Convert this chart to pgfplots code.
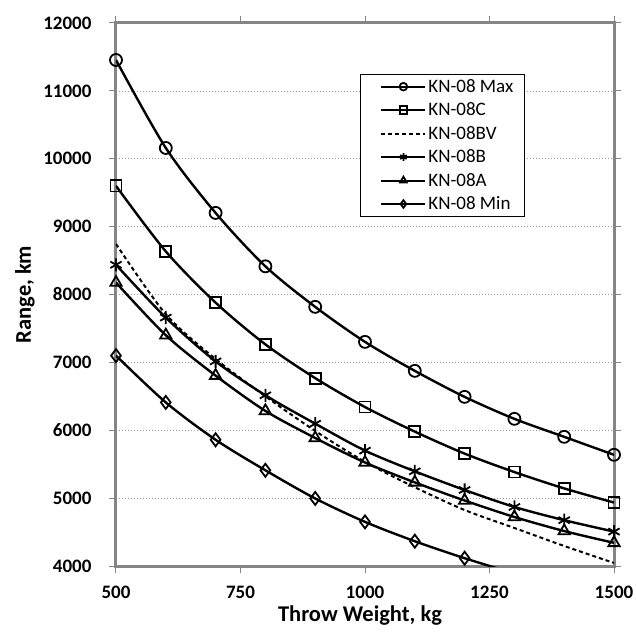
\documentclass[border=0pt]{standalone}
\usepackage{fontspec}
\setmainfont{Carlito}
\usepackage{pgfplots}
\pgfplotsset{compat=1.18}
\usepackage{pgfplotstable}
\pgfplotstableread{
x y
500 11455
600 10159
700 9202
800 8415
900 7818
1000 7302
1100 6875
1200 6492
1300 6168
1400 5903
1500 5638
}\tmax
\pgfplotstableread{
x y
500 9600
600 8635
700 7880
800 7265
900 6768
1000 6342
1100 5980
1200 5656
1300 5384
1400 5143
1500 4935
}\tc
\pgfplotstableread{
x y
500 8745
600 7710
700 7050
800 6500
900 5990
1000 5535
1100 5160
1200 4825
1300 4560
1400 4295
1500 4045
}\tbv
\pgfplotstableread{
x y
500 8438
600 7660
700 7015
800 6515
900 6097
1000 5700
1100 5395
1200 5120
1300 4870
1400 4675
1500 4507
}\tb
\pgfplotstableread{
x y
500 8176
600 7400
700 6805
800 6285
900 5886
1000 5525
1100 5232
1200 4965
1300 4722
1400 4515
1500 4341
}\ta
\pgfplotstableread{
x y
500 7100
600 6410
700 5860
800 5410
900 4995
1000 4650
1100 4365
1200 4115
1300 3890
}\tmin
\definecolor{axgray}{HTML}{858585}
\begin{document}
\begin{tikzpicture}
\begin{axis}[
  scale only axis,
  width=498bp, height=543bp,
  xmin=500, xmax=1500, ymin=4000, ymax=12000,
  xtick={500,750,1000,1250,1500},
  ytick={4000,5000,...,12000},
  scaled ticks=false,
  /pgf/number format/1000 sep={},
  /pgf/number format/assume math mode=true,
  ticklabel style={font=\fontsize{19bp}{22bp}\selectfont\bfseries},
  xticklabel style={yshift=-10bp},
  yticklabel style={xshift=-14bp},
  axis line style={draw=axgray, line width=3bp},
  tick style={draw=axgray, line width=1bp},
  tick align=outside,
  major tick length=7bp,
  ymajorgrids,
  major grid style={draw=gray!80, line width=0.7bp, dash pattern=on 1.5bp off 1.5bp},
  xlabel={Throw Weight, kg},
  ylabel={Range, km},
  label style={font=\fontsize{22.5bp}{26bp}\selectfont\bfseries},
  xlabel style={at={(axis description cs:0.49,-0.091)}, anchor=center},
  ylabel style={at={(axis description cs:-0.183,0.5)}, anchor=center},
  every axis plot/.append style={black, line width=2.4bp, smooth, tension=0.5},
  legend style={at={(axis description cs:0.49,0.906)}, anchor=north west,
    draw=black, line width=0.8bp, fill=white,
    font=\fontsize{19bp}{22bp}\selectfont,
    inner xsep=9bp, inner ysep=3bp, row sep=5bp,
    cells={anchor=west}},
  legend cell align=left,
  legend image code/.code={\path[draw=none] (-12bp,0bp) -- (44bp,0bp);
    \draw[mark=none,sharp plot,line width=2bp] (0bp,0bp) -- (44bp,0bp);
    \draw[sharp plot,mark size=3.8bp] plot coordinates {(22bp,0bp)};},
]
\addplot[mark=o, mark size=6bp, mark options={solid, fill=white, line width=1.8bp}] table[x=x,y=y]{\tmax};
\addlegendentry{KN-08 Max}
\addplot[mark=square, mark size=5.5bp, mark options={solid, fill=white, line width=1.8bp}] table[x=x,y=y]{\tc};
\addlegendentry{KN-08C}
\addplot[dashed, dash pattern=on 4bp off 3bp, line width=2bp] table[x=x,y=y]{\tbv};
\addlegendentry{KN-08BV}
\addplot[mark=asterisk, mark size=6.5bp, mark options={solid, line width=1.8bp}] table[x=x,y=y]{\tb};
\addlegendentry{KN-08B}
\addplot[mark=triangle, mark size=6.5bp, mark options={solid, fill=white, line width=1.8bp}] table[x=x,y=y]{\ta};
\addlegendentry{KN-08A}
\addplot[mark=diamond, mark size=6.5bp, mark indices={1,2,3,4,5,6,7,8}, mark options={solid, fill=white, line width=1.8bp}] table[x=x,y=y]{\tmin};
\addlegendentry{KN-08 Min}
\end{axis}
\pgfresetboundingbox
\path[use as bounding box] ([xshift=-116bp,yshift=-69bp]current axis.south west) rectangle ([xshift=22bp,yshift=23bp]current axis.north east);
\end{tikzpicture}
\end{document}
